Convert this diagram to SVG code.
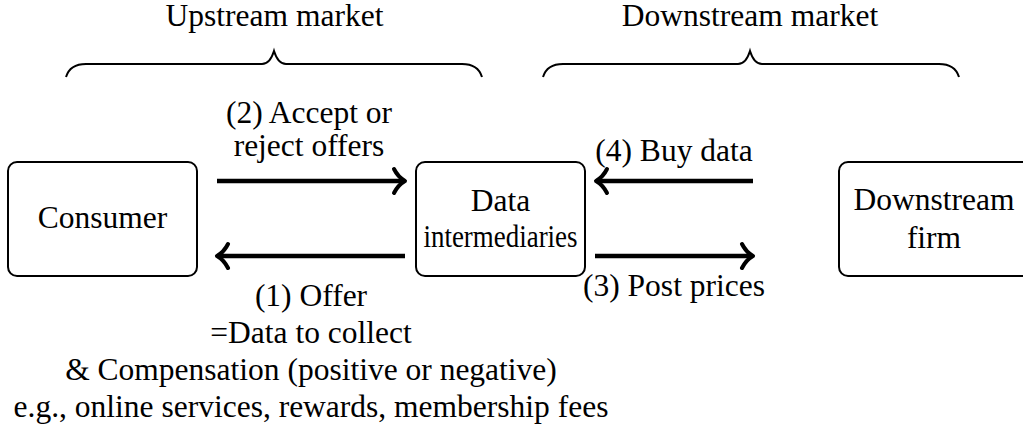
<svg xmlns="http://www.w3.org/2000/svg" width="1023" height="434" viewBox="0 0 1023 434" font-family="'Liberation Serif', 'Times New Roman', 'DejaVu Serif', serif">
<style>
text{font-family:'Liberation Serif','Times New Roman','DejaVu Serif',serif;font-size:31.5px;fill:#000;text-anchor:middle}
.box{fill:#fff;stroke:#000;stroke-width:2}
.brace{fill:none;stroke:#000;stroke-width:2}
.ln{fill:none;stroke:#000;stroke-width:4.5}
.hd{fill:none;stroke:#000;stroke-width:4;stroke-linecap:round;stroke-linejoin:round}
</style>
<rect width="1023" height="434" fill="#fff"/>
<g id="upstream-brace">
<path class="brace" d="M66,77 Q70,64 86,64 L262,64 Q270,64 274,51 Q278,64 286,64 L462,64 Q478,64 482,77"/>
<text x="274.5" y="26">Upstream market</text>
</g>
<g id="downstream-brace">
<path class="brace" d="M543,77 Q547,64 563,64 L738,64 Q746,64 750,51 Q754,64 762,64 L939,64 Q955,64 959,77"/>
<text x="750" y="26">Downstream market</text>
</g>
<g id="consumer">
<rect class="box" x="8" y="162" width="189" height="114" rx="9"/>
<text x="102.5" y="228">Consumer</text>
</g>
<g id="data-intermediaries">
<rect class="box" x="416" y="162" width="169" height="114" rx="9"/>
<text x="500.5" y="211">Data</text>
<text x="500.5" y="247" textLength="154" lengthAdjust="spacingAndGlyphs">intermediaries</text>
</g>
<g id="downstream-firm">
<rect class="box" x="839" y="162" width="192" height="114" rx="9"/>
<text x="934" y="210">Downstream</text>
<text x="934" y="248">firm</text>
</g>
<g id="connectors">
<line class="ln" x1="217" y1="181" x2="403" y2="181"/>
<path class="hd" d="M394,169 Q398,177 405,181 Q398,185 394,193"/>
<line class="ln" x1="219" y1="256" x2="405" y2="256"/>
<path class="hd" d="M228,244 Q224,252 217,256 Q224,260 228,268"/>
<line class="ln" x1="598" y1="181" x2="753" y2="181"/>
<path class="hd" d="M607,169 Q603,177 596,181 Q603,185 607,193"/>
<line class="ln" x1="595" y1="256" x2="751" y2="256"/>
<path class="hd" d="M742,244 Q746,252 753,256 Q746,260 742,268"/>
</g>
<g id="labels">
<text x="309" y="123">(2) Accept or</text>
<text x="309" y="156">reject offers</text>
<text x="674" y="161">(4) Buy data</text>
<text x="674" y="296">(3) Post prices</text>
<text x="311" y="306">(1) Offer</text>
<text x="311" y="343">=Data to collect</text>
<text x="311" y="380">&amp; Compensation (positive or negative)</text>
<text x="311" y="417">e.g., online services, rewards, membership fees</text>
</g>
</svg>
